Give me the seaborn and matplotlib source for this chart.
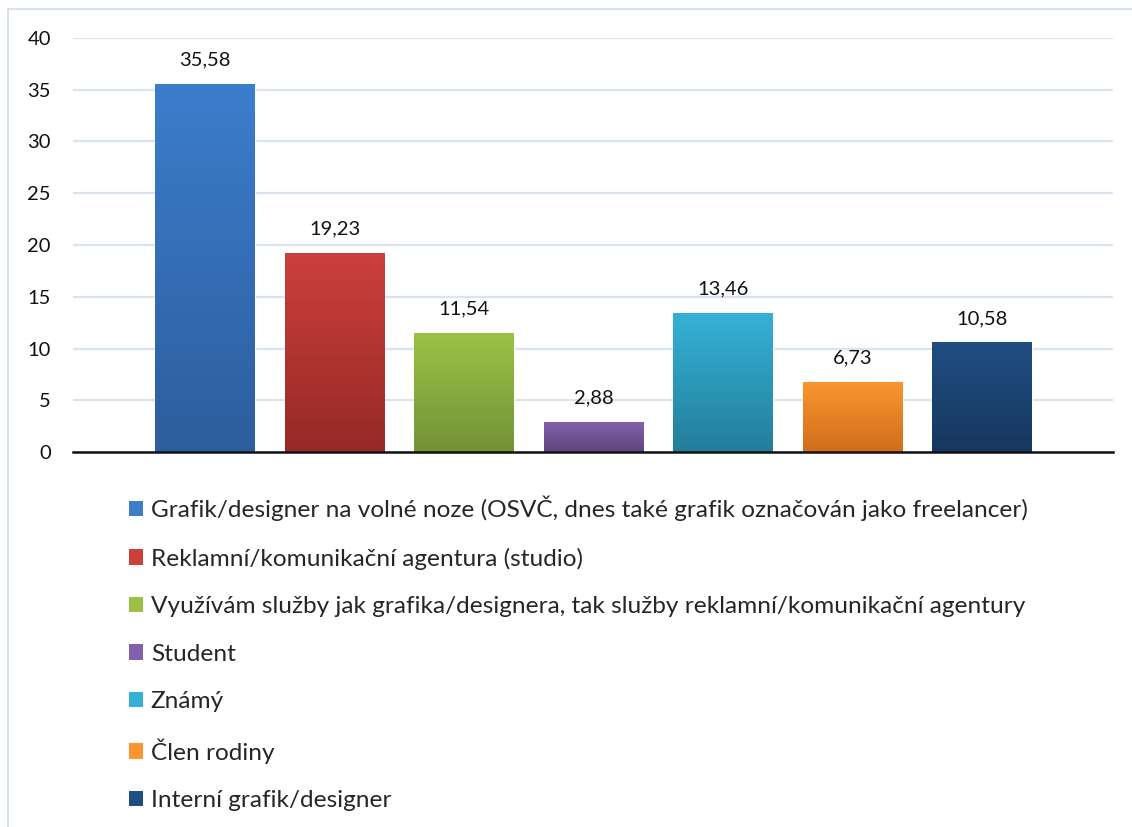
import numpy as np
import matplotlib
matplotlib.use("Agg")
import matplotlib.pyplot as plt
import matplotlib.colors as mcolors
from matplotlib.patches import Patch, Rectangle
import seaborn as sns

# data
categories = [
    "Grafik/designer na volné noze (OSVČ, dnes také grafik označován jako freelancer)",
    "Reklamní/komunikační agentura (studio)",
    "Využívám služby jak grafika/designera, tak služby reklamní/komunikační agentury",
    "Student",
    "Známý",
    "Člen rodiny",
    "Interní grafik/designer",
]
values = [35.58, 19.23, 11.54, 2.88, 13.46, 6.73, 10.58]
value_labels = ["35,58", "19,23", "11,54", "2,88", "13,46", "6,73", "10,58"]
y_ticks = [0, 5, 10, 15, 20, 25, 30, 35, 40]

# barvy: horní / dolní konec přechodu
top_colors = ["#3C7DCC", "#CC3F3C", "#9BC247", "#8260AA", "#36B1D6", "#FA9530", "#204E82"]
bottom_colors = ["#2D5E9E", "#962A27", "#749236", "#5F457E", "#237E9B", "#D06E1C", "#17375E"]

sns.set_theme(style="white")
plt.rcParams["font.family"] = ["Lato", "DejaVu Sans"]

fig = plt.figure(figsize=(11.32, 8.27), dpi=100)
ax = fig.add_axes([73 / 1132, 1 - 452 / 827, (1113 - 73) / 1132, (452 - 38) / 827])

sns.barplot(x=list(range(len(values))), y=values, hue=list(range(len(values))),
            palette=top_colors, legend=False, width=0.77, ax=ax, zorder=3)

# přechod v každém sloupci
for patch, c1, c2 in zip(ax.patches, top_colors, bottom_colors):
    x0, y0 = patch.get_x(), patch.get_y()
    w, h = patch.get_width(), patch.get_height()
    cmap = mcolors.LinearSegmentedColormap.from_list("g", [c2, c1])
    grad = np.linspace(0, 1, 64).reshape(-1, 1)
    im = ax.imshow(grad, cmap=cmap, origin="lower", aspect="auto",
                   extent=[x0, x0 + w, y0, y0 + h], zorder=4)
    im.set_clip_path(patch)

# popisky hodnot
for i, (v, lab) in enumerate(zip(values, value_labels)):
    ax.text(i, v + 1.5, lab, ha="center", va="bottom", fontsize=14.5, color="#111111")

ax.set_xlim(-1.02, 7.01)
ax.set_ylim(0, 40)
ax.set_yticks(y_ticks)
ax.set_yticklabels([str(t) for t in y_ticks], fontsize=14.5, color="#111111")
ax.set_xticks([])
ax.tick_params(axis="y", length=0, pad=16)
ax.yaxis.grid(True, color="#D9E3F1", linewidth=1.6, zorder=0)
ax.set_axisbelow(True)
for side in ["top", "right", "left"]:
    ax.spines[side].set_visible(False)
ax.spines["bottom"].set_color("#111111")
ax.spines["bottom"].set_linewidth(1.8)
ax.spines["bottom"].set_zorder(5)

# legenda
handles = [Patch(facecolor=c, edgecolor="none") for c in top_colors]
fig.legend(handles, categories, loc="upper left", bbox_to_anchor=(119 / 1132, 1 - 486 / 827),
           frameon=False, fontsize=17.6, handlelength=0.6, handleheight=0.6,
           handletextpad=0.3, labelspacing=1.08, borderaxespad=0)

# rámeček grafu
fig.patches.append(Rectangle((8 / 1132, -0.1), 1.2, (827 - 9) / 827 + 0.1,
                             transform=fig.transFigure, fill=False,
                             edgecolor="#D6E2F2", linewidth=1.5))

fig.savefig("out.png", dpi=100)
